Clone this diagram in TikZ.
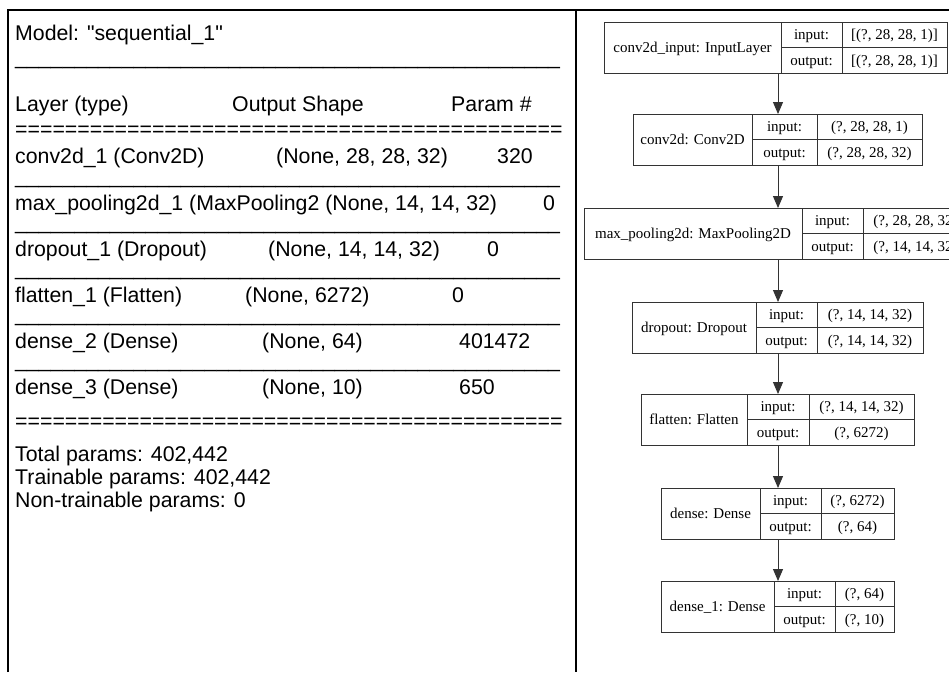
\documentclass[tikz,border=0pt]{standalone}
\usepackage{fontspec}
\setmainfont{Liberation Serif}
\newfontfamily\sumfont{Liberation Sans}
\usetikzlibrary{arrows.meta}
\definecolor{boxc}{gray}{0.2}
\newcommand{\undten}{\_\_\_\_\_\_\_\_\_\_}
\newcommand{\undline}{\undten\undten\undten\undten\_\_\_\_\_\_}
\newcommand{\eqten}{==========}
\newcommand{\eqline}{\eqten\eqten\eqten\eqten====}
\newcommand{\kbox}[9]{%
  \node[draw=boxc, line width=1pt, inner sep=0pt, outer sep=0pt,
        minimum width={#5-#2}, minimum height=51, anchor=north west] (#1) at (#2,#6) {};
  \draw[boxc, line width=1pt] (#3,#6) -- (#3,#6+51) (#4,#6) -- (#4,#6+51)
        (#3,#6+25.5) -- (#5,#6+25.5);
  \node[gtxt] (#1-name) at ({(#2+#3)/2},#6+30) {#7};
  \node[gtxt] (#1-inl) at ({(#3+#4)/2},#6+17.5) {input:};
  \node[gtxt] (#1-outl) at ({(#3+#4)/2},#6+43) {output:};
  \node[gtxt] (#1-inv) at ({(#4+#5)/2},#6+17.5) {#8};
  \node[gtxt] (#1-outv) at ({(#4+#5)/2},#6+43) {#9};
}
\begin{document}
\begin{tikzpicture}[x=1pt,y=-1pt,
  sumtxt/.style={anchor=base west, inner sep=0pt, font=\sumfont\fontsize{21.3}{25}\selectfont},
  gtxt/.style={anchor=base, inner sep=0pt, font=\fontsize{15}{18}\selectfont},
  arr/.style={boxc, line width=1pt, -{Triangle[length=12pt,width=10pt]}},
  frame/.style={black, line width=1.3pt}]
\useasboundingbox (0,0) rectangle (949,672);
\fill[white] (0,0) rectangle (949,672);
% frame
\draw[frame] (8,672) -- (8,10) -- (949,10);
\draw[frame] (576,10) -- (576,672);
% left panel: model summary
\node[sumtxt] (model) at (15,40) {Model: "sequential\_1"};
\node[sumtxt] (sep0) at (15,64) {\undline};
\node[sumtxt] (h1) at (15,111) {Layer (type)};
\node[sumtxt] (h2) at (232,111) {Output Shape};
\node[sumtxt] (h3) at (451,111) {Param \#};
\node[sumtxt] (eq1) at (15,136) {\eqline};
\node[sumtxt] (r1a) at (15,163) {conv2d\_1 (Conv2D)};
\node[sumtxt] (r1b) at (276,163) {(None, 28, 28, 32)};
\node[sumtxt] (r1c) at (497,163) {320};
\node[sumtxt] (sep1) at (15,183) {\undline};
\node[sumtxt] (r2a) at (15,210) {max\_pooling2d\_1 (MaxPooling2 (None, 14, 14, 32)};
\node[sumtxt] (r2c) at (543,210) {0};
\node[sumtxt] (sep2) at (15,229.5) {\undline};
\node[sumtxt] (r3a) at (15,256) {dropout\_1 (Dropout)};
\node[sumtxt] (r3b) at (268,256) {(None, 14, 14, 32)};
\node[sumtxt] (r3c) at (487,256) {0};
\node[sumtxt] (sep3) at (15,275.5) {\undline};
\node[sumtxt] (r4a) at (15,302) {flatten\_1 (Flatten)};
\node[sumtxt] (r4b) at (245,302) {(None, 6272)};
\node[sumtxt] (r4c) at (452,302) {0};
\node[sumtxt] (sep4) at (15,321.5) {\undline};
\node[sumtxt] (r5a) at (15,348) {dense\_2 (Dense)};
\node[sumtxt] (r5b) at (262,348) {(None, 64)};
\node[sumtxt] (r5c) at (459,348) {401472};
\node[sumtxt] (sep5) at (15,367.5) {\undline};
\node[sumtxt] (r6a) at (15,394) {dense\_3 (Dense)};
\node[sumtxt] (r6b) at (262,394) {(None, 10)};
\node[sumtxt] (r6c) at (459,394) {650};
\node[sumtxt] (eq2) at (15,428) {\eqline};
\node[sumtxt] (t1) at (15,461) {Total params: 402,442};
\node[sumtxt] (t2) at (15,484) {Trainable params: 402,442};
\node[sumtxt] (t3) at (15,507) {Non-trainable params: 0};
% right panel: layer graph
\coordinate (ax) at (778,0);
\kbox{b1}{604}{781}{842}{947}{22}{conv2d\_input: InputLayer}{[(?, 28, 28, 1)]}{[(?, 28, 28, 1)]}
\kbox{b2}{633}{752}{817}{922}{114}{conv2d: Conv2D}{(?, 28, 28, 1)}{(?, 28, 28, 32)}
\kbox{b3}{584}{802}{863}{968}{208}{max\_pooling2d: MaxPooling2D}{(?, 28, 28, 32)}{(?, 14, 14, 32)}
\kbox{b4}{632}{756}{817}{923}{302}{dropout: Dropout}{(?, 14, 14, 32)}{(?, 14, 14, 32)}
\kbox{b5}{641}{747}{809}{914}{394}{flatten: Flatten}{(?, 14, 14, 32)}{(?, 6272)}
\kbox{b6}{661}{760}{821}{894}{488}{dense: Dense}{(?, 6272)}{(?, 64)}
\kbox{b7}{661}{774}{835}{894}{581}{dense\_1: Dense}{(?, 64)}{(?, 10)}
\draw[arr] (b1.south -| ax) -- (b2.north -| ax);
\draw[arr] (b2.south -| ax) -- (b3.north -| ax);
\draw[arr] (b3.south -| ax) -- (b4.north -| ax);
\draw[arr] (b4.south -| ax) -- (b5.north -| ax);
\draw[arr] (b5.south -| ax) -- (b6.north -| ax);
\draw[arr] (b6.south -| ax) -- (b7.north -| ax);
\end{tikzpicture}
\end{document}
